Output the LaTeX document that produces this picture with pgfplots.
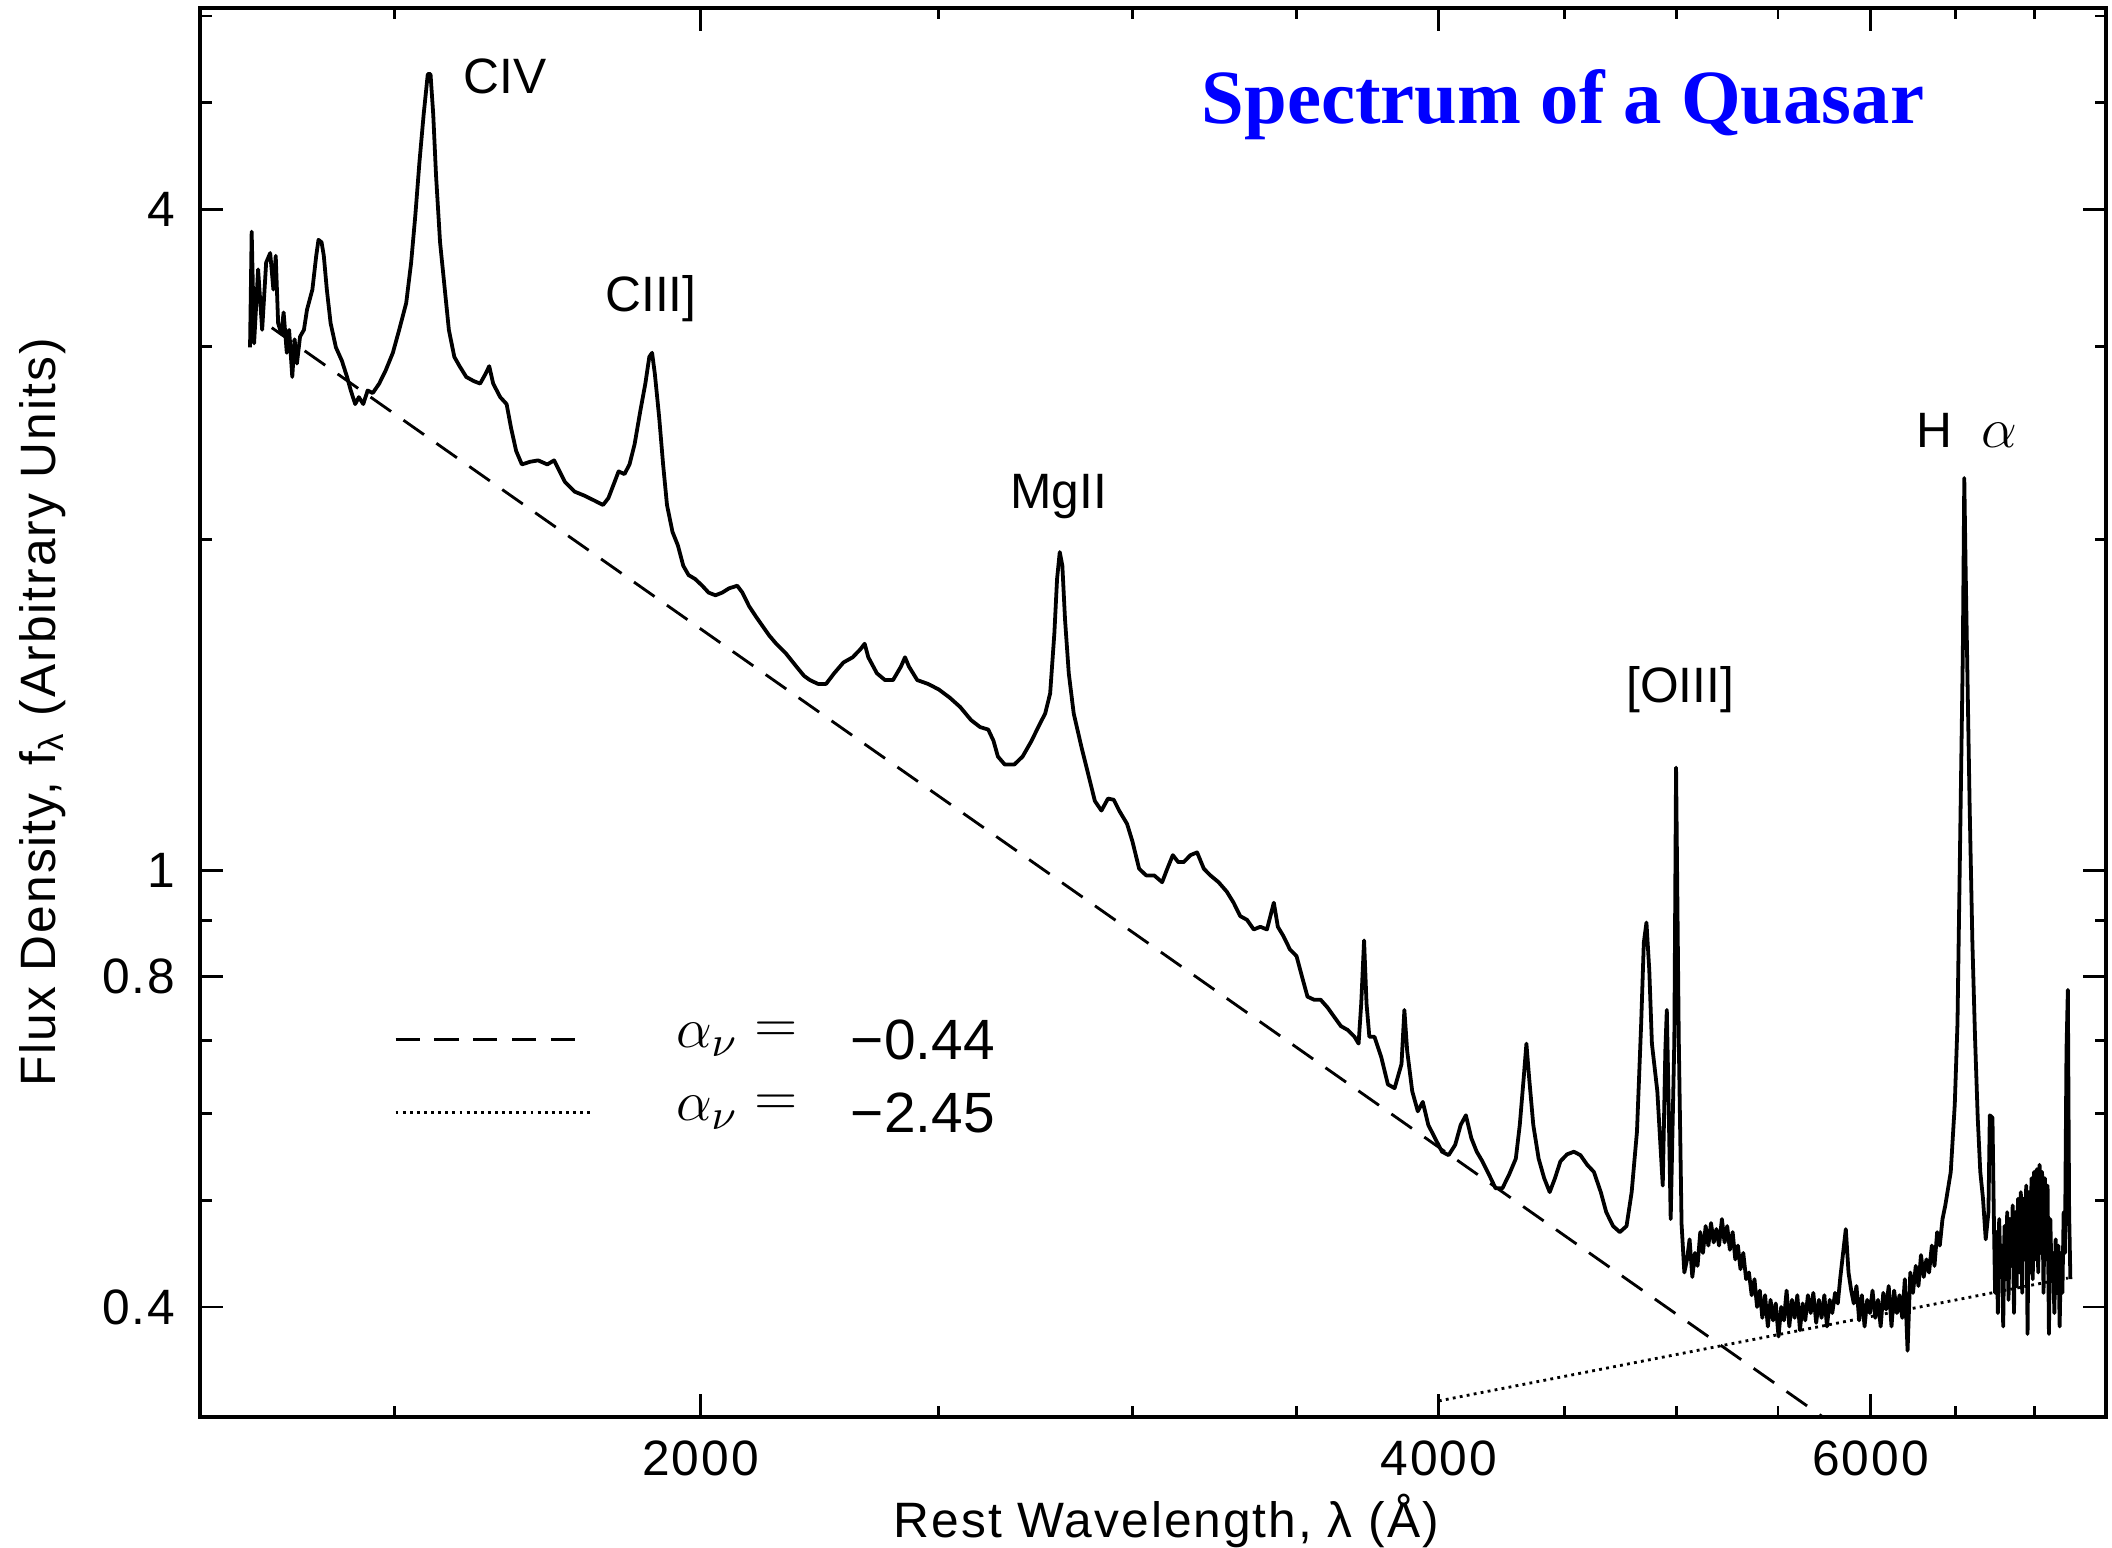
\documentclass[border=0pt]{standalone}
\usepackage{fontspec}
\setmainfont{Liberation Sans}
\newfontfamily\spaced[LetterSpace=4]{Liberation Sans}
\newfontfamily\titlefont{Liberation Serif}
\usepackage{pgfplots}
\pgfplotsset{compat=1.18}
\usepackage{pgfplotstable}

\pgfplotstableread{
lam f
1310 2.994
1312 3.817
1315 3.019
1320 3.526
1325 3.106
1330 3.577
1335 3.649
1339 3.380
1342 3.628
1345 3.150
1349 3.080
1352 3.222
1356 2.960
1359 3.106
1363 2.814
1366 3.045
1369 2.894
1373 3.062
1378 3.106
1382 3.240
1389 3.380
1394 3.628
1397 3.752
1401 3.732
1404 3.628
1408 3.380
1413 3.150
1420 2.994
1428 2.911
1435 2.814
1440 2.735
1446 2.658
1451 2.697
1457 2.658
1463 2.735
1470 2.720
1479 2.775
1488 2.853
1498 2.960
1507 3.106
1517 3.286
1524 3.577
1530 3.948
1536 4.421
1542 4.880
1548 5.311
1552 5.311
1556 4.880
1560 4.298
1566 3.732
1572 3.428
1579 3.106
1587 2.935
1595 2.878
1605 2.814
1616 2.790
1626 2.775
1634 2.830
1640 2.878
1646 2.775
1657 2.697
1667 2.658
1674 2.527
1682 2.409
1691 2.342
1704 2.355
1717 2.362
1732 2.342
1743 2.362
1752 2.308
1761 2.257
1777 2.212
1793 2.194
1811 2.170
1825 2.151
1834 2.182
1843 2.244
1852 2.308
1862 2.295
1871 2.342
1880 2.443
1890 2.621
1899 2.775
1906 2.935
1911 2.960
1916 2.830
1924 2.585
1931 2.342
1938 2.151
1948 2.033
1958 1.976
1968 1.894
1978 1.857
1990 1.842
2003 1.816
2015 1.790
2028 1.780
2041 1.790
2054 1.806
2070 1.816
2080 1.790
2093 1.740
2107 1.701
2120 1.668
2133 1.636
2147 1.608
2166 1.577
2188 1.533
2204 1.503
2216 1.490
2233 1.478
2250 1.478
2267 1.511
2287 1.546
2307 1.563
2324 1.590
2333 1.608
2341 1.563
2360 1.511
2378 1.490
2396 1.490
2414 1.533
2423 1.563
2432 1.533
2451 1.490
2476 1.478
2501 1.461
2527 1.436
2552 1.408
2578 1.370
2600 1.350
2620 1.343
2633 1.312
2644 1.269
2661 1.248
2685 1.248
2706 1.269
2729 1.312
2746 1.350
2764 1.389
2777 1.449
2788 1.645
2795 1.842
2802 1.949
2809 1.894
2816 1.692
2826 1.511
2839 1.389
2860 1.294
2878 1.223
2896 1.156
2914 1.133
2932 1.162
2948 1.159
2963 1.133
2985 1.102
3000 1.062
3019 1.003
3039 0.989
3062 0.989
3085 0.975
3100 1.003
3116 1.032
3132 1.017
3148 1.017
3168 1.032
3188 1.038
3208 1.003
3228 0.989
3253 0.975
3278 0.956
3299 0.934
3320 0.908
3341 0.901
3362 0.883
3383 0.888
3404 0.883
3426 0.934
3439 0.888
3457 0.871
3478 0.847
3500 0.835
3518 0.800
3536 0.767
3558 0.762
3580 0.762
3603 0.750
3626 0.735
3649 0.721
3673 0.715
3696 0.705
3710 0.695
3719 0.756
3729 0.863
3738 0.756
3748 0.705
3766 0.705
3790 0.675
3814 0.638
3838 0.633
3863 0.666
3873 0.746
3883 0.685
3902 0.629
3922 0.603
3941 0.615
3961 0.586
3986 0.570
4012 0.554
4037 0.550
4062 0.562
4083 0.586
4103 0.598
4124 0.570
4145 0.554
4167 0.543
4193 0.528
4219 0.513
4246 0.513
4273 0.528
4300 0.546
4316 0.586
4332 0.647
4343 0.695
4354 0.647
4371 0.586
4393 0.546
4416 0.524
4439 0.509
4461 0.524
4484 0.543
4512 0.551
4541 0.554
4569 0.550
4598 0.539
4627 0.531
4657 0.509
4681 0.488
4711 0.474
4741 0.468
4771 0.474
4794 0.509
4818 0.578
4837 0.725
4849 0.859
4861 0.896
4874 0.811
4886 0.695
4911 0.629
4936 0.516
4948 0.685
4955 0.746
4961 0.647
4973 0.481
4990 0.700
4998 1.240
5011 0.700
5024 0.476
5037 0.430
5050 0.442
5062 0.461
5075 0.426
5088 0.448
5100 0.436
5113 0.468
5126 0.448
5139 0.474
5152 0.455
5165 0.477
5178 0.458
5191 0.471
5204 0.455
5218 0.481
5231 0.458
5244 0.474
5257 0.451
5271 0.468
5284 0.442
5297 0.455
5310 0.433
5324 0.448
5338 0.424
5352 0.430
5366 0.410
5380 0.424
5393 0.400
5407 0.414
5420 0.391
5434 0.410
5448 0.384
5462 0.406
5475 0.389
5489 0.403
5503 0.376
5517 0.400
5531 0.389
5545 0.414
5559 0.384
5573 0.406
5587 0.391
5601 0.410
5615 0.381
5629 0.403
5643 0.389
5657 0.410
5672 0.395
5686 0.412
5701 0.387
5716 0.406
5730 0.391
5745 0.410
5759 0.384
5774 0.406
5788 0.395
5803 0.412
5818 0.403
5832 0.426
5847 0.448
5862 0.471
5877 0.430
5892 0.414
5906 0.403
5921 0.418
5936 0.389
5951 0.410
5966 0.384
5981 0.406
5996 0.395
6011 0.414
6026 0.391
6042 0.406
6057 0.384
6072 0.412
6088 0.398
6103 0.418
6119 0.384
6134 0.414
6150 0.395
6165 0.410
6181 0.391
6196 0.424
6212 0.365
6228 0.430
6244 0.412
6260 0.436
6276 0.418
6291 0.446
6307 0.426
6323 0.442
6339 0.430
6355 0.455
6371 0.436
6387 0.468
6403 0.455
6419 0.481
6436 0.495
6469 0.531
6494 0.612
6510 0.725
6527 1.077
6543 1.577
6552 2.276
6560 1.894
6568 1.599
6585 1.139
6602 0.859
6618 0.705
6635 0.595
6651 0.531
6668 0.502
6685 0.461
6702 0.488
6711 0.598
6728 0.595
6736 0.488
6744 0.412
6753 0.468
6762 0.395
6770 0.481
6779 0.430
6787 0.455
6796 0.384
6804 0.474
6813 0.424
6821 0.488
6830 0.406
6838 0.481
6847 0.436
6856 0.495
6865 0.395
6874 0.488
6882 0.418
6891 0.502
6900 0.430
6909 0.509
6918 0.412
6926 0.502
6935 0.442
6944 0.516
6953 0.378
6961 0.509
6970 0.430
6979 0.524
6987 0.424
6996 0.531
7005 0.442
7014 0.534
7023 0.430
7032 0.539
7041 0.448
7049 0.531
7058 0.412
7067 0.524
7076 0.442
7085 0.516
7094 0.378
7103 0.481
7112 0.424
7121 0.448
7130 0.395
7139 0.461
7148 0.412
7157 0.455
7166 0.384
7175 0.448
7184 0.412
7193 0.488
7202 0.448
7212 0.685
7221 0.778
7230 0.488
7239 0.424
}\spectrum

\begin{document}
\begin{tikzpicture}
\begin{axis}[
  at={(0,0)}, anchor=south west,
  scale only axis, width=14.15cm, height=10.46cm,
  xmode=log, ymode=log,
  xmin=1250, xmax=7485, ymin=0.3176, ymax=6.1,
  xtick={2000,4000,6000}, xticklabels={2000,4000,6000},
  minor xtick={1500,2500,3000,3500,4500,5000,5500,6500,7000},
  ytick={0.4,0.8,1,4}, yticklabels={0.4,0.8,1,4},
  minor ytick={0.5,0.6,0.7,0.9,2,3,5,6},
  major tick length=0.17cm, minor tick length=0.085cm,
  every tick/.style={black, line width=0.6pt},
  axis line style={line width=0.9pt},
  tick label style={font=\spaced\fontsize{10.5}{12}\selectfont},
  xticklabel style={yshift=-0.05cm},
  yticklabel style={xshift=-0.06cm},
  xlabel={Rest Wavelength, λ (Å)},
  ylabel={Flux Density, f\textsubscript{λ} (Arbitrary Units)},
  label style={font=\spaced\fontsize{10.5}{12}\selectfont},
  xlabel style={at={(axis description cs:0.507,-0.0736)}, anchor=center},
  ylabel style={at={(axis description cs:-0.0827,0.5)}, anchor=center},
]
\addplot[black, line width=0.8pt, line join=round] table[x=lam, y=f] {\spectrum};
% power law alpha_nu = -0.44
\addplot[black, line width=0.6pt, dash pattern=on 5.3pt off 3.2pt] coordinates {(1337,3.12) (5800,0.3122)};
% power law alpha_nu = -2.45
\addplot[black, line width=0.6pt, dash pattern=on 0.6pt off 0.9pt] coordinates {(4000,0.3285) (7221,0.4250)};
% legend samples
\addplot[black, line width=0.6pt, dash pattern=on 5.1pt off 3.1pt] coordinates {(1502,0.7006) (1784,0.7006)};
\addplot[black, line width=0.6pt, dash pattern=on 0.6pt off 0.9pt] coordinates {(1502,0.6013) (1804,0.6013)};

\node[anchor=west, inner sep=0pt, font=\fontsize{13}{15}\selectfont] at (axis cs:1953,0.7006) {$\alpha_\nu$};
\node[inner sep=0pt, font=\fontsize{12}{14}\selectfont] at (axis cs:2147,0.7120) {$=$};
\node[anchor=west, inner sep=0pt, font=\fontsize{12}{14}\selectfont] at (axis cs:2301,0.7006) {−0.44};
\node[anchor=west, inner sep=0pt, font=\fontsize{13}{15}\selectfont] at (axis cs:1953,0.6013) {$\alpha_\nu$};
\node[inner sep=0pt, font=\fontsize{12}{14}\selectfont] at (axis cs:2147,0.6110) {$=$};
\node[anchor=west, inner sep=0pt, font=\fontsize{12}{14}\selectfont] at (axis cs:2301,0.6013) {−2.45};

\node[font=\fontsize{10.5}{12}\selectfont] at (axis cs:1665,5.28) {CIV};
\node[font=\fontsize{10.5}{12}\selectfont] at (axis cs:1909,3.314) {CIII]};
\node[font=\fontsize{10.5}{12}\selectfont] at (axis cs:2799,2.188) {MgII};
\node[font=\fontsize{10.5}{12}\selectfont] at (axis cs:5017,1.461) {[OIII]};
\node[font=\fontsize{10.5}{12}\selectfont] at (axis cs:6568,2.513) {H\hspace{0.6em}\large$\alpha$};

\node[font=\titlefont\bfseries\fontsize{16.2}{19}\selectfont, text=blue] at (axis cs:4495,4.977) {Spectrum of a Quasar};
\end{axis}
\pgfresetboundingbox
\path[use as bounding box] (-1.485,-0.97) rectangle (14.195,10.52);
\end{tikzpicture}
\end{document}
